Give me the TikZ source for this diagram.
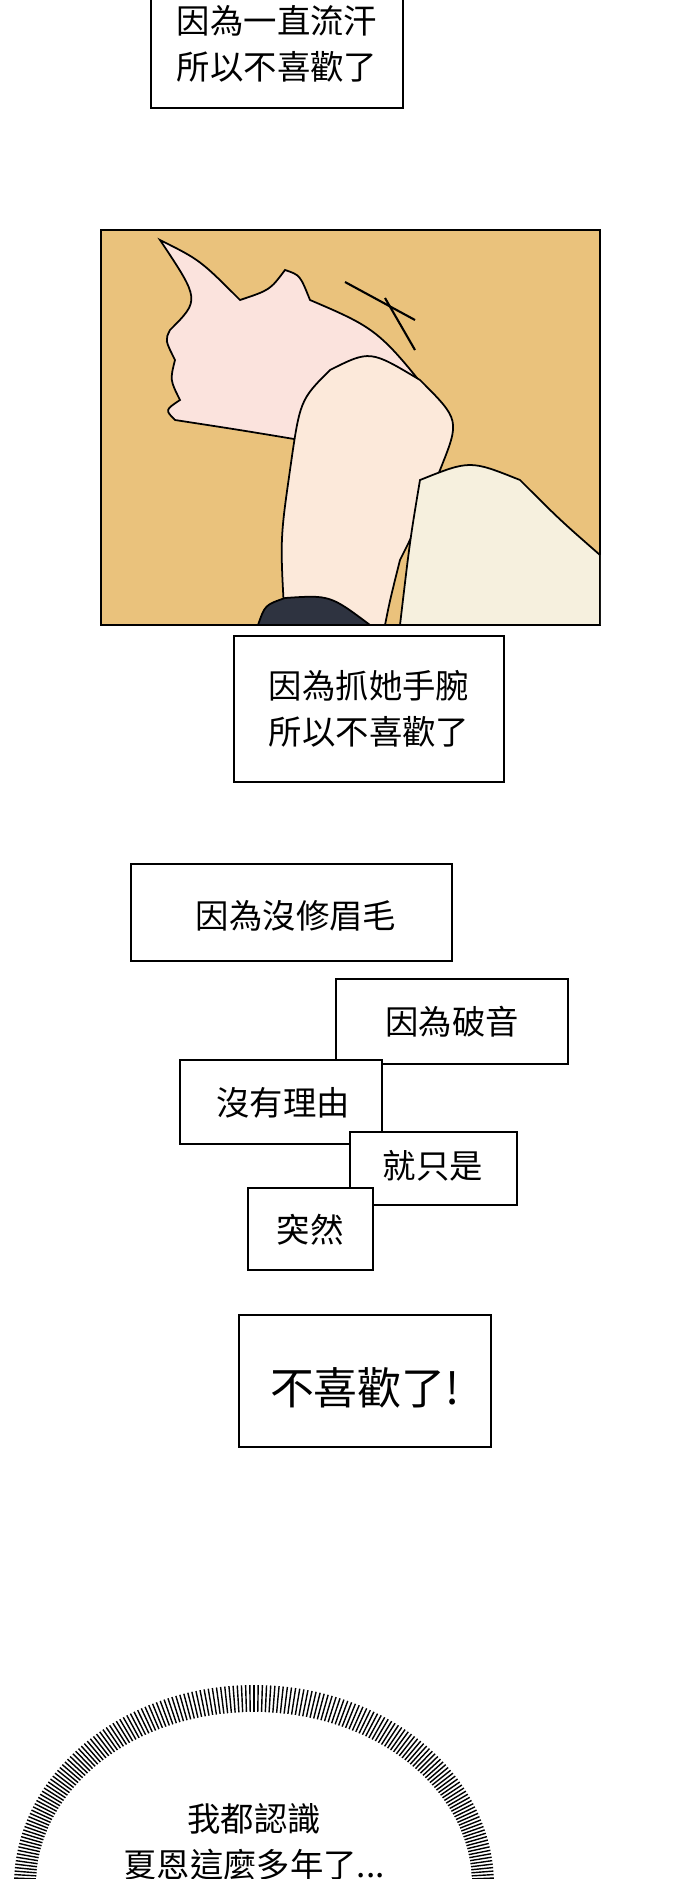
\documentclass[tikz,border=0pt]{standalone}
\usepackage{fontspec}
\newfontfamily\cjk{Noto Sans CJK TC}
\definecolor{panelbg}{HTML}{EAC27C}
\definecolor{pinkskin}{HTML}{FBE3DD}
\definecolor{skin}{HTML}{FCE9DA}
\definecolor{sleeve}{HTML}{F6F0DE}
\definecolor{darksleeve}{HTML}{2E3340}
\tikzset{caption/.style = {draw, line width=1.6pt, fill=white},
         words/.style = {font=\cjk\fontsize{19}{26}\selectfont, align=center},
         outline/.style = {draw, line width=1pt}}
\begin{document}
\begin{tikzpicture}[x=0.02cm, y=-0.02cm]
      \useasboundingbox (0,0) rectangle (690,1879);
      \fill [white] (0,0) rectangle (690,1879);
      % first caption
      \draw [caption] (151,-5) rectangle (403,108);
      \node [words] (t1) at (277,44) {因為一直流汗\\所以不喜歡了};
      % panel
      \draw [fill=panelbg, line width=1.6pt] (101,230) rectangle (600,625);
      \begin{scope}
      \clip (101,230) rectangle (600,625);
      \draw [outline, fill=pinkskin] (160,240) .. controls (200,260) .. (240,300)
            .. controls (270,290) .. (285,270) .. controls (300,275) .. (310,300)
            .. controls (380,330) .. (450,420) -- (420,480) .. controls (350,470) .. (300,440)
            .. controls (240,430) .. (175,420) .. controls (165,410) .. (180,400)
            .. controls (170,380) .. (175,360) .. controls (165,340) .. (170,330)
            .. controls (200,300) .. (160,240) -- cycle;
      \draw [outline, fill=skin] (285,625) .. controls (280,540) .. (290,470)
            .. controls (300,400) .. (330,370) .. controls (370,350) .. (420,380)
            .. controls (460,420) .. (440,470) .. controls (420,520) .. (400,560)
            .. controls (390,600) .. (385,625) -- cycle;
      \draw [outline, fill=sleeve] (400,625) .. controls (410,540) .. (420,480)
            .. controls (470,460) .. (520,480) .. controls (560,520) .. (600,555)
            -- (600,625) -- cycle;
      \draw [outline, fill=darksleeve] (258,625) .. controls (265,605) .. (285,598)
            .. controls (330,595) .. (370,625) -- cycle;
      \draw [line width=1.2pt] (345,282) -- (415,320);
      \draw [line width=1.2pt] (385,298) -- (415,350);
      \end{scope}
      % second caption
      \draw [caption] (234,636) rectangle (504,782);
      \node [words] (t2) at (369,709) {因為抓她手腕\\所以不喜歡了};
      % stacked captions
      \draw [caption] (131,864) rectangle (452,961);
      \node [words] (t3) at (296,916) {因為沒修眉毛};
      \draw [caption] (336,979) rectangle (568,1064);
      \node [words] (t4) at (452,1022) {因為破音};
      \draw [caption] (180,1060) rectangle (382,1144);
      \node [words] (t5) at (283,1103) {沒有理由};
      \draw [caption] (350,1132) rectangle (517,1205);
      \node [words] (t6) at (433,1166) {就只是};
      \draw [caption] (248,1188) rectangle (373,1270);
      \node [words] (t7) at (310,1230) {突然};
      \draw [caption] (239,1315) rectangle (491,1447);
      \node [words, font=\cjk\fontsize{25}{30}\selectfont] (t8) at (365,1388) {不喜歡了!};
      % burst bubble
      \begin{scope}
      \clip (0,0) rectangle (690,1879);
      \foreach \a in {0,1,...,359}{
      \draw [line width=0.8pt] ({254+212*cos(\a)},{1885+168*sin(\a)}) -- ({254+240*cos(\a)},{1885+200*sin(\a)});}
      \fill [white] (254,1885) ellipse [x radius=218, y radius=173];
      \end{scope}
      \node [words] (t9) at (254,1842) {我都認識\\夏恩這麼多年了...};
\end{tikzpicture}
\end{document}
